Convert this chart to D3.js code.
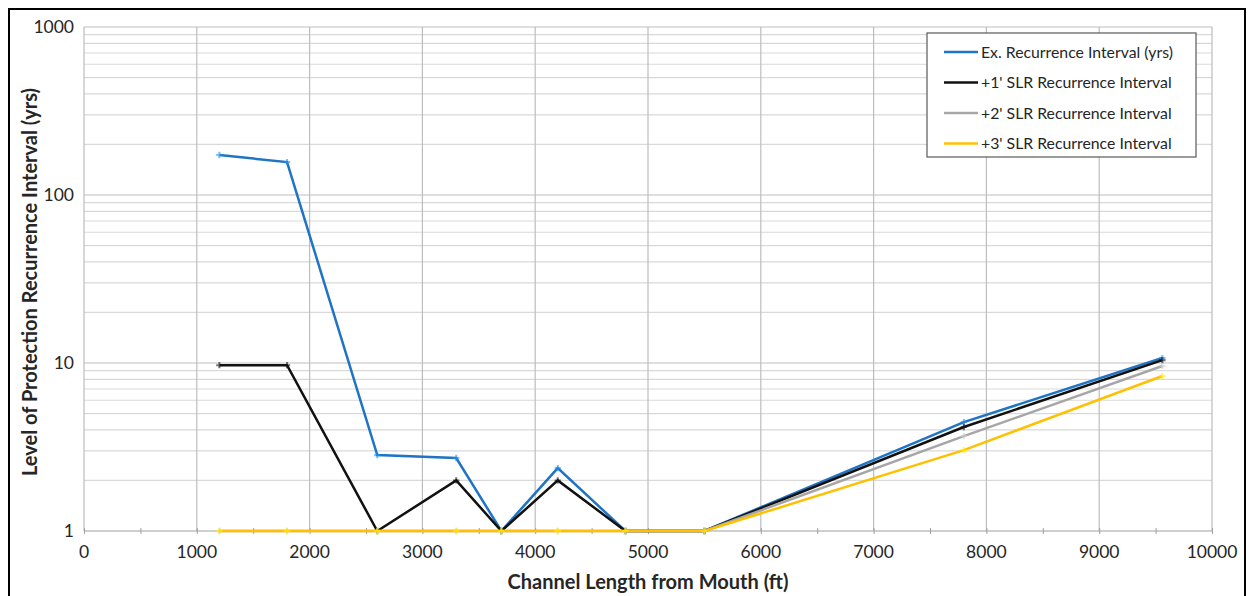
<!DOCTYPE html>
<html>
<head>
<meta charset="utf-8">
<script src="https://cdn.jsdelivr.net/npm/d3@7"></script>
<style>
  body { margin: 0; background: #fff; }
  svg { font-family: Lato, "Open Sans", sans-serif; }
</style>
</head>
<body>
<div id="chart"></div>
<script>
// channel stations (ft)
var stations = [1200, 1800, 2600, 3300, 3700, 4200, 4800, 5500, 7800, 9560];

var exInterval  = [173, 157, 2.83, 2.72, 1, 2.37, 1, 1, 4.45, 10.7];
var slr1Interval = [9.7, 9.7, 1, 2.0, 1, 2.0, 1, 1, 4.16, 10.4];
var slr2Interval = [1, 1, 1, 1, 1, 1, 1, 1, 3.67, 9.6];
var slr3Interval = [1, 1, 1, 1, 1, 1, 1, 1, 3.03, 8.37];

var seriesNames = ['Ex. Recurrence Interval (yrs)', "+1' SLR Recurrence Interval",
  "+2' SLR Recurrence Interval", "+3' SLR Recurrence Interval"];
var seriesColors = ['#1f74c4', '#111111', '#a6a6a6', '#ffc000'];

var xTicks = [0, 1000, 2000, 3000, 4000, 5000, 6000, 7000, 8000, 9000, 10000];
var yTicks = [1, 10, 100, 1000];

var W = 1249, H = 596;
var margin = { left: 84, right: 37, top: 27, bottom: 65 };

var svg = d3.select('#chart').append('svg')
  .attr('width', W)
  .attr('height', H);

// outer frame
svg.append('rect')
  .attr('x', 9).attr('y', 9)
  .attr('width', 1236).attr('height', 600)
  .attr('fill', 'none')
  .attr('stroke', '#000')
  .attr('stroke-width', 2);

var x = d3.scaleLinear().domain([0, 10000]).range([margin.left, W - margin.right]);
var y = d3.scaleLog().domain([1, 1000]).range([H - margin.bottom, margin.top]);

// minor horizontal gridlines (2..9 per decade)
var minor = [];
[1, 10, 100].forEach(function(d) {
  for (var k = 2; k <= 9; k++) minor.push(d * k);
});

var grid = svg.append('g');
grid.selectAll('.minor').data(minor).enter().append('line')
  .attr('x1', x(0)).attr('x2', x(10000))
  .attr('y1', function(d) { return y(d); })
  .attr('y2', function(d) { return y(d); })
  .attr('stroke', '#d9d9d9')
  .attr('stroke-width', 1.2);

grid.selectAll('.major').data(yTicks.slice(1)).enter().append('line')
  .attr('x1', x(0)).attr('x2', x(10000))
  .attr('y1', function(d) { return y(d); })
  .attr('y2', function(d) { return y(d); })
  .attr('stroke', '#bfbfbf')
  .attr('stroke-width', 1.2);

grid.selectAll('.vgrid').data(xTicks).enter().append('line')
  .attr('x1', function(d) { return x(d); })
  .attr('x2', function(d) { return x(d); })
  .attr('y1', y(1000)).attr('y2', y(1))
  .attr('stroke', '#bdbdbd')
  .attr('stroke-width', 1.2);

// x axis line with minor ticks
var xAxis = d3.axisBottom(x)
  .tickValues(d3.range(0, 10001, 500))
  .tickSize(6)
  .tickFormat('');
var xAxisG = svg.append('g')
  .attr('transform', 'translate(0,' + (y(1) - 3) + ')')
  .call(xAxis);
xAxisG.select('.domain').remove();
xAxisG.selectAll('line').attr('stroke', '#a0a0a0');

svg.append('line')
  .attr('x1', x(0)).attr('x2', x(10000))
  .attr('y1', y(1)).attr('y2', y(1))
  .attr('stroke', '#a0a0a0')
  .attr('stroke-width', 1.2);

// tick labels
svg.append('g').selectAll('text').data(xTicks).enter().append('text')
  .attr('x', function(d) { return x(d); })
  .attr('y', y(1) + 27)
  .attr('text-anchor', 'middle')
  .attr('font-size', 17.5)
  .attr('fill', '#262626')
  .text(function(d) { return d; });

svg.append('g').selectAll('text').data(yTicks).enter().append('text')
  .attr('x', x(0) - 10)
  .attr('y', function(d) { return y(d) + 6; })
  .attr('text-anchor', 'end')
  .attr('font-size', 17.5)
  .attr('fill', '#262626')
  .text(function(d) { return d; });

// axis titles
svg.append('text')
  .attr('x', 648)
  .attr('y', 589)
  .attr('text-anchor', 'middle')
  .attr('font-size', 20)
  .attr('font-weight', 'bold')
  .attr('fill', '#262626')
  .text('Channel Length from Mouth (ft)');

svg.append('text')
  .attr('transform', 'translate(37,282) rotate(-90)')
  .attr('text-anchor', 'middle')
  .attr('font-size', 20)
  .attr('font-weight', 'bold')
  .attr('fill', '#262626')
  .text('Level of Protection Recurrence Interval (yrs)');

// series
var seriesData = [exInterval, slr1Interval, slr2Interval, slr3Interval];
var line = d3.line()
  .x(function(d, i) { return x(stations[i]); })
  .y(function(d) { return y(d); });

seriesData.forEach(function(vals, s) {
  svg.append('path')
    .datum(vals)
    .attr('d', line)
    .attr('fill', 'none')
    .attr('stroke', seriesColors[s])
    .attr('stroke-width', 2.5)
    .attr('stroke-linejoin', 'miter');

  // faint markers
  svg.append('g').selectAll('path').data(vals).enter().append('path')
    .attr('d', d3.symbol().type(d3.symbolCross).size(22))
    .attr('transform', function(d, i) { return 'translate(' + x(stations[i]) + ',' + y(d) + ')'; })
    .attr('fill', d3.color(seriesColors[s]).brighter(0.6))
    .attr('opacity', 0.6);
});

// legend
var lg = svg.append('g').attr('transform', 'translate(927,33)');
lg.append('rect')
  .attr('width', 269).attr('height', 124)
  .attr('fill', '#fff')
  .attr('stroke', '#595959')
  .attr('stroke-width', 1.2);

var items = lg.selectAll('.item').data(seriesNames).enter().append('g')
  .attr('transform', function(d, i) { return 'translate(0,' + (19 + i * 30.5) + ')'; });
items.append('line')
  .attr('x1', 17).attr('x2', 51)
  .attr('stroke', function(d, i) { return seriesColors[i]; })
  .attr('stroke-width', 2.5);
items.append('text')
  .attr('x', 54)
  .attr('y', 5.5)
  .attr('font-size', 15.8)
  .attr('fill', '#262626')
  .text(function(d) { return d; });
</script>
</body>
</html>
